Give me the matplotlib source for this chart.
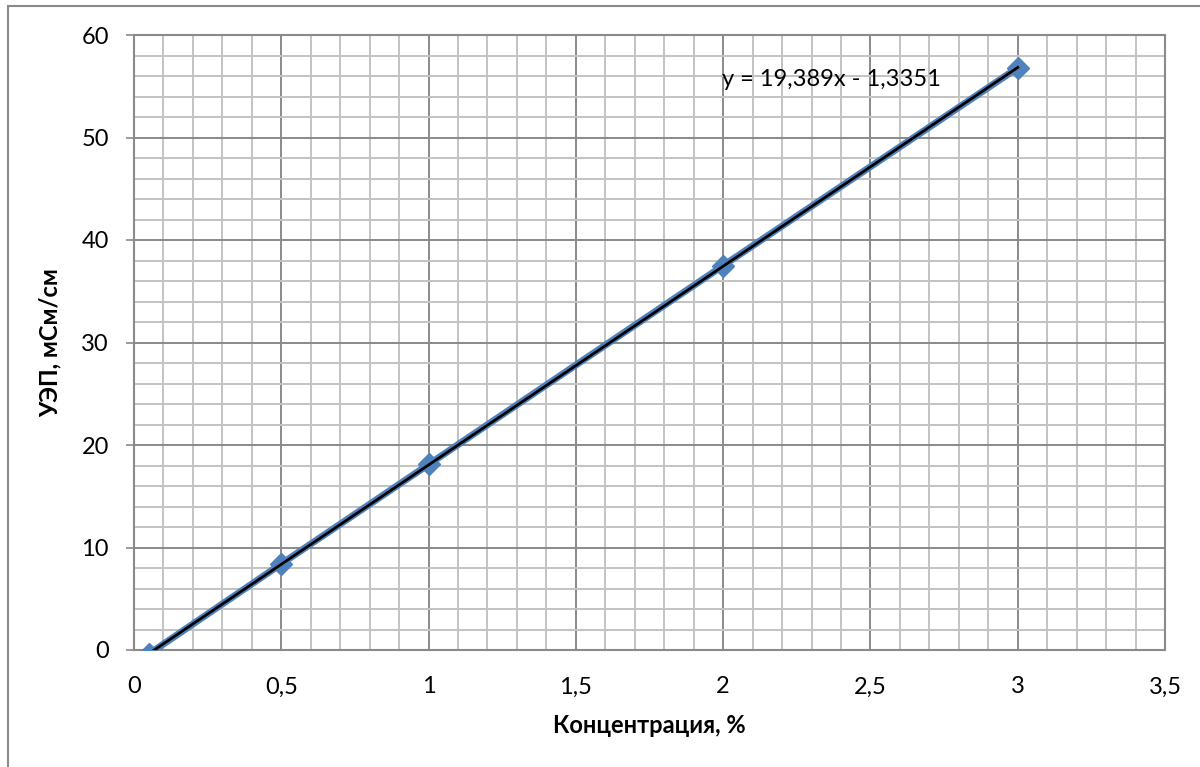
import numpy as np
import matplotlib
matplotlib.use("Agg")
import matplotlib.pyplot as plt
from matplotlib.ticker import MultipleLocator, FuncFormatter
from matplotlib.patches import Rectangle

# data
conc = [0.05, 0.5, 1.0, 2.0, 3.0]
uep = [-0.4, 8.4, 18.1, 37.5, 56.8]

# trendline from the equation shown on the chart
slope = 19.389
intercept = -1.3351
eq_text = "y = 19,389x - 1,3351"

x_label = "Концентрация, %"
y_label = "УЭП, мСм/см"

plt.rcParams['font.family'] = ['Lato', 'DejaVu Sans']

fig = plt.figure(figsize=(12, 7.67), dpi=100)
ax = fig.add_axes([134/1200, 1 - 650/767, (1165 - 134)/1200, (650 - 35)/767])

major_c = '#8a8a8a'
minor_c = '#c3c3c3'

ax.set_xlim(0, 3.5)
ax.set_ylim(0, 60)
ax.xaxis.set_major_locator(MultipleLocator(0.5))
ax.xaxis.set_minor_locator(MultipleLocator(0.1))
ax.yaxis.set_major_locator(MultipleLocator(10))
ax.yaxis.set_minor_locator(MultipleLocator(2))
ax.grid(which='minor', color=minor_c, lw=1.4)
ax.grid(which='major', color=major_c, lw=1.4)
ax.set_axisbelow(True)

fmt = FuncFormatter(lambda v, p: ('%g' % v).replace('.', ','))
ax.xaxis.set_major_formatter(fmt)
ax.yaxis.set_major_formatter(fmt)

ax.tick_params(axis='x', which='both', length=0, pad=19, labelsize=17)
ax.tick_params(axis='y', which='major', length=6, width=1.2, color=major_c, pad=12, labelsize=17)
ax.tick_params(axis='y', which='minor', length=0)

for s in ax.spines.values():
    s.set_color(major_c)
    s.set_linewidth(1.5)

# data series
ax.plot(conc, uep, color='#4f81bd', lw=5, marker='D', markersize=11,
        markeredgecolor='#4f81bd', zorder=3)

# linear trendline
tx = np.array([min(conc), max(conc)])
ax.plot(tx, slope * tx + intercept, color='black', lw=2, zorder=4)

ax.text(1.995, 55.7, eq_text, fontsize=17, ha='left', va='center', zorder=5)

ax.set_xlabel(x_label, fontsize=17, fontweight='bold', labelpad=12)
ax.set_ylabel(y_label, fontsize=17, fontweight='bold', labelpad=14)

# outer chart frame
fig.patches.append(Rectangle((8/1200, -0.05), 1.2, 1 - 6/767 + 0.05,
                             transform=fig.transFigure, fill=False,
                             edgecolor='#8a8a8a', lw=1.5))

fig.savefig('out.png', dpi=100)
